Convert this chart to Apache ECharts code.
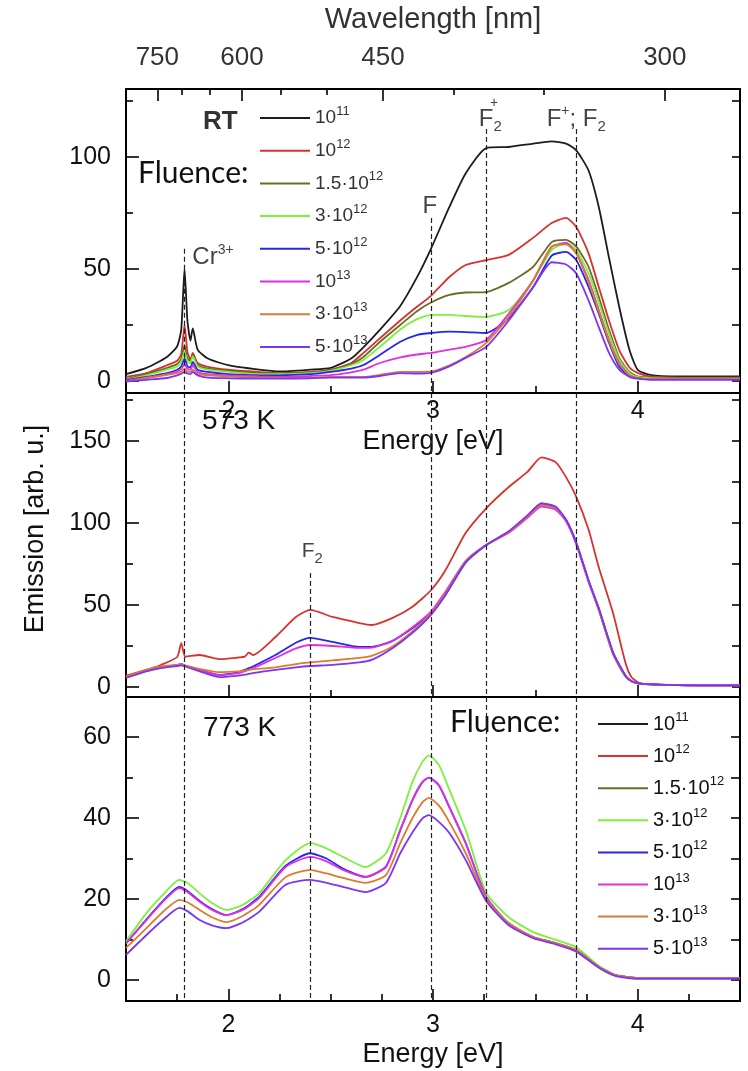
<!DOCTYPE html>
<html>
<head>
<meta charset="utf-8">
<script src="https://cdn.jsdelivr.net/npm/echarts@6.0.0/dist/echarts.min.js"></script>
<style>
html, body { margin: 0; padding: 0; background: #fff; }
#chart { width: 748px; height: 1071px; }
</style>
</head>
<body>
<div id="chart"></div>
<script>
// ---- Photon energy grids (eV), one per panel ----
const energyRT  = [1.50,1.60,1.70,1.75,1.77, 1.786,1.80,1.815,1.826,1.85, 1.90,2.00,2.15,2.25,2.40, 2.50,2.60,2.66,2.74,2.84, 2.92,2.99,3.08,3.16,3.26, 3.37,3.49,3.58,3.65,3.70, 3.76,3.81,3.86,3.91,3.96, 4.00,4.06,4.20,4.35,4.50];
const energy573 = [1.50,1.60,1.67,1.75,1.77, 1.79,1.86,1.96,2.05,2.08, 2.10,2.12,2.23,2.33,2.40, 2.51,2.64,2.70,2.80,2.90, 2.99,3.06,3.16,3.26,3.37, 3.46,3.53,3.60,3.65,3.70, 3.76,3.81,3.88,3.94,3.97, 4.01,4.10,4.30,4.50];
const energy773 = [1.50,1.60,1.68,1.76,1.80, 1.86,1.92,1.99,2.07,2.15, 2.28,2.40,2.48,2.56,2.67, 2.77,2.84,2.90,2.95,2.98, 3.03,3.08,3.16,3.26,3.37, 3.49,3.60,3.70,3.81,3.89, 4.00,4.20,4.50];

// ---- Emission spectra at room temperature (arb. u.) ----
const rt_1e11  = [3,5.8,10.7,15.5,23, 50,27,18,23.5,14, 10,7,5,4.2,5, 5.8,10,15,22.8,33.5, 46,59,77.7,92.8,104, 104.5,106,107,106,103, 94,77.7,55,33,13.8, 5,2.7,2,2,2];
const rt_1e12  = [1.8,3.5,7,9,12, 25,13,9.5,12.5,8, 6.3,5,4,3.5,4, 5,8,12.5,19,27, 33,38,46.4,51.8,54, 56.3,64,70.5,72.8,68.8, 57,42,27,13.8,6, 3.6,2,1.5,1.5,1.5];
const rt_15e12 = [0.8,3,5.8,7.5,10, 16,10,9,12,7, 5.5,4.5,3.5,3.2,3.8, 4.8,7.5,10.7,17.4,25, 31,35,38.4,39.5,39.7, 43.8,51,62,63,60, 51,37.5,22.8,10.3,4, 2,1.5,1.2,1.2,1.2];
const rt_3e12  = [0.5,2.5,5,6.5,8.5, 13,8.5,8,11,6.5, 5,4,3,3,3.5, 4.5,7,9.4,15.2,23, 27.5,29.5,29.5,29,28.6, 31.7,45,58.5,61.6,58.5, 48,35,21,9.5,3.5, 1.8,1.2,1,1,1];
const rt_5e12  = [0.3,1.8,3.5,5,6.5, 10,6.5,6,8.5,5, 4,3,2.5,2.5,3, 4,5.5,7.1,11.6,17.5, 20.5,21.4,22,21.8,21.4, 28,42,56,57.6,54, 42,30,17,6.3,2.2, 1.2,0.8,0.8,0.8,0.8];
const rt_1e13  = [0,1.5,3,4.2,5.5, 7.5,5.5,5,7,4, 3,2.5,2,1.8,2.2, 2.6,3.8,5,8,10.5, 11.8,12.5,14,15.2,18.3, 30,45,60,61.6,57, 45,31.7,18.3,8,2.5, 1.2,0.8,0.8,0.8,0.8];
const rt_3e13  = [-0.2,1.2,2.7,3.5,4.2, 5.5,4.2,4,5,3, 2.5,2,1.5,1.3,1.5, 1.8,1.8,1.8,2.7,4, 4,4.2,7,10.7,17, 28.6,45,60,61,57, 44,31,18,7.5,2.5, 1.2,0.8,0.8,0.8,0.8];
const rt_5e13  = [-0.3,0.5,1.3,2.5,3.2, 4,3.3,3,4,2.5, 1.5,1.2,1,1,1.2, 1.5,1.5,1.5,2.2,3.5, 3.3,3.6,6.5,10.3,15.2, 27,42,53,52,48, 36,24,12.5,5,1.8, 1,0.5,0.5,0.5,0.5];

// ---- Emission spectra at 573 K ----
const k573_1e12 = [7,10.5,13.4,18.3,26.8, 18.5,19.5,17,18,18.5, 21,19.5,30.5,42.7,47, 42.7,39,37.8,42,49, 59,71,94,109,122, 131,140,137,128,116, 96,73,45,15,6, 2.4,1.5,1,1];
const k573_5e12 = [6,10,12,13.4,14, 13,10.4,7.3,9,10.5, 11.5,12.5,19.5,27,30, 27.5,24.4,24.5,28,36, 45,56,76,86.6,94.5, 104,112,109,102,88, 65,48,21,7,3.5, 2,1.5,1,1];
const k573_1e13 = [6,10,12,13.4,14, 13,10.4,7.3,8.5,9.5, 10.5,11.5,17.7,23.5,25.6, 25,23.8,24,28,36.5, 46,58,77,86.6,94, 103,110,108,101,87, 64,47,20,6.5,3.5, 2,1.5,1,1];
const k573_3e13 = [6.5,10.5,12.5,13.4,13.8, 13,11,9,9.5,10, 10.5,10.8,12,14,15, 16.2,17.7,19,24.5,34, 45,57,77,86.6,94.5, 104,111,109,102,88, 65,47,20,6.5,3.5, 2,1.5,1,1];
const k573_5e13 = [5.5,9.5,11.5,12.8,13.2, 12.5,9.5,6,7,7.5, 8,8.5,10.4,12,12.8, 13.5,15,16.5,23.5,33, 44,56,76,86.6,95, 104.5,112,110,102,88, 65,48,21,7,3.5, 2,1.5,1,1];

// ---- Emission spectra at 773 K ----
const k773_3e12 = [9.5,16.5,21,24.7,24, 21.4,19,17.3,18.5,21.4, 29.6,33.8,32.5,30.4,27.9, 31.3,40,49,54,55.5, 53,47,37,21.5,15.5, 11.8,9.9,8.1,3.5,1.3, 0.5,0.5,0.5];
const k773_5e12 = [9,15,19.5,23,22, 19.5,17.5,16,17.5,20.5, 28.2,31.3,30,27.5,25.5, 28,37,44.5,49,50, 48,42.7,33.8,20.5,14, 10.6,9.1,7.4,3.2,1.2, 0.5,0.5,0.5];
const k773_1e13 = [9,14.8,19.3,22.7,21.7, 19.3,17.3,16,17.3,20.2, 27.9,30.4,29.3,27.2,25.4, 27.9,37,44.5,49,50, 48,42.7,33.8,20.5,14, 10.6,9.1,7.4,3.2,1.2, 0.5,0.5,0.5];
const k773_3e13 = [7.9,12.8,16.8,19.8,19.2, 17.3,15.5,14.3,15.8,18.5, 25.4,27.2,26.3,25.2,24, 25.9,33.8,40,44,45, 43,39,31.3,20,14, 10.6,9.1,7.4,3.2,1.2, 0.5,0.5,0.5];
const k773_5e13 = [6.2,11.1,14.8,17.8,17, 14.8,13.5,12.8,14.2,16.8, 23.5,24.7,24,23,21.7, 24,31.3,36.5,40,40.7, 39,36.3,29.6,19.5,13.5, 10.3,8.8,7,3,1, 0.3,0.3,0.3];

// ---- Fluence legend ----
const fluenceKeys   = ['1e11', '1e12', '1.5e12', '3e12', '5e12', '1e13', '3e13', '5e13'];
const fluenceLabels = ['10{s|11}', '10{s|12}', '1.5·10{s|12}', '3·10{s|12}', '5·10{s|12}', '10{s|13}', '3·10{s|13}', '5·10{s|13}'];
const fluenceColors = ['#1c1c1c', '#d8322e', '#6b6b24', '#7cf03c', '#2626ee', '#e02ee4', '#db7a30', '#7a36f4'];

// ---- Axis ticks ----
const energyMajor = [2, 3, 4];
const energyMinorCoarse = [2.5, 3.5];
const energyMinorFine = [1.75, 2.25, 2.5, 2.75, 3.25, 3.5, 3.75, 4.25];
const wavelengthMajor = [750, 600, 450, 300];
const wavelengthMinor = [700, 650, 550, 500, 400, 350];
const rtMajor = [0, 50, 100];       const rtMinor = [25, 75, 125];
const k573Major = [0, 50, 100, 150]; const k573Minor = [25, 75, 125, 175];
const k773Major = [0, 20, 40, 60];   const k773Minor = [10, 30, 50];

// ---- Defect-centre emission energies (eV) ----
const lineCr = 1.786, lineF2 = 2.40, lineF = 2.99, lineF2p = 3.26, lineFp = 3.70;

const E_MIN = 1.5, E_MAX = 4.5;
const EV_NM = 1239.84;
const RT_RANGE = [-5.4, 130.4];
const K573_RANGE = [-6.1, 179.3];
const K773_RANGE = [-5.2, 69.9];

const FONT = "'Liberation Sans', Arial, Helvetica, sans-serif";
const INK = '#000';

function tickStyle(len) {
  return { show: true, inside: true, length: len, lineStyle: { color: INK, width: 1.6 } };
}
function xAxisDef(gridIndex, position, ticks, len, label, extra) {
  const ax = {
    type: 'value', gridIndex, position, min: E_MIN, max: E_MAX,
    axisLine: { show: false, onZero: false }, splitLine: { show: false },
    axisTick: Object.assign(tickStyle(len), { customValues: ticks }),
    axisLabel: label ? Object.assign({ show: true, customValues: ticks, color: '#111', fontSize: 25, fontFamily: FONT }, label) : { show: false }
  };
  return Object.assign(ax, extra || {});
}
function yAxisDef(gridIndex, position, range, ticks, len, label) {
  return {
    type: 'value', gridIndex, position, min: range[0], max: range[1],
    axisLine: { show: false, onZero: false }, splitLine: { show: false },
    axisTick: Object.assign(tickStyle(len), { customValues: ticks }),
    axisLabel: label ? { show: true, customValues: ticks, color: '#111', fontSize: 25, fontFamily: FONT, margin: 15 } : { show: false }
  };
}

const nameStyle = { fontSize: 27, color: '#111', fontFamily: FONT };

const xAxes = [
  // room-temperature panel
  xAxisDef(0, 'bottom', energyMajor, 12, { margin: 6 },
    { name: 'Energy [eV]', nameLocation: 'middle', nameGap: 35, nameTextStyle: nameStyle }),
  xAxisDef(0, 'bottom', energyMinorCoarse, 7, null),
  xAxisDef(0, 'top', wavelengthMajor.map(w => EV_NM / w), 12,
    { margin: 18, fontSize: 26, color: '#333', formatter: v => String(Math.round(EV_NM / v)) },
    { name: 'Wavelength [nm]', nameLocation: 'middle', nameGap: 55, nameTextStyle: { fontSize: 29, color: '#333', fontFamily: FONT } }),
  xAxisDef(0, 'top', wavelengthMinor.map(w => EV_NM / w), 6, null),
  // 573 K panel
  xAxisDef(1, 'bottom', energyMajor, 12, null),
  xAxisDef(1, 'bottom', energyMinorCoarse, 7, null),
  // 773 K panel
  xAxisDef(2, 'bottom', energyMajor, 12, { margin: 12 },
    { name: 'Energy [eV]', nameLocation: 'middle', nameGap: 40, nameTextStyle: nameStyle }),
  xAxisDef(2, 'bottom', energyMinorFine, 7, null)
];

const yAxes = [
  yAxisDef(0, 'left', RT_RANGE, rtMajor, 13, true),
  yAxisDef(0, 'left', RT_RANGE, rtMinor, 7, false),
  yAxisDef(0, 'right', RT_RANGE, rtMajor.concat(rtMinor), 8, false),
  yAxisDef(1, 'left', K573_RANGE, k573Major, 13, true),
  yAxisDef(1, 'left', K573_RANGE, k573Minor, 7, false),
  yAxisDef(1, 'right', K573_RANGE, k573Major.concat(k573Minor), 8, false),
  yAxisDef(2, 'left', K773_RANGE, k773Major, 13, true),
  yAxisDef(2, 'left', K773_RANGE, k773Minor, 7, false),
  yAxisDef(2, 'right', K773_RANGE, k773Major.concat(k773Minor), 9, false)
];

function spectrum(key, energies, values, xi, yi) {
  const color = fluenceColors[fluenceKeys.indexOf(key)];
  return {
    type: 'line', name: key, xAxisIndex: xi, yAxisIndex: yi,
    data: energies.map((e, i) => [e, values[i]]),
    symbol: 'none', smooth: 0.2, silent: true,
    lineStyle: { color, width: 1.8 }, itemStyle: { color }
  };
}

const dash = { type: [5, 3], color: '#222', width: 1.2 };
function guideLines(segments) {
  return {
    silent: true, symbol: ['none', 'none'], label: { show: false }, lineStyle: dash,
    data: segments.map(([e, top, bottom]) => [{ coord: [e, top], lineStyle: dash }, { coord: [e, bottom] }])
  };
}

const annoRich = {
  sup: { fontSize: 14, lineHeight: 14, verticalAlign: 'top', color: '#444', fontFamily: FONT },
  sub: { fontSize: 15, lineHeight: 15, verticalAlign: 'bottom', color: '#444', fontFamily: FONT }
};
function annotations(items, size) {
  return {
    silent: true, symbol: 'circle', symbolSize: 0, itemStyle: { color: 'rgba(0,0,0,0)' },
    label: { show: true, position: 'inside', color: '#444', fontSize: size, lineHeight: 30, fontFamily: FONT, rich: annoRich },
    data: items.map(([e, v, text]) => ({ coord: [e, v], label: { formatter: text } }))
  };
}

const seriesRT = [rt_1e11, rt_1e12, rt_15e12, rt_3e12, rt_5e12, rt_1e13, rt_3e13, rt_5e13]
  .map((vals, i) => spectrum(fluenceKeys[i], energyRT, vals, 0, 0));
seriesRT[0].markLine = guideLines([
  [lineCr, 59, RT_RANGE[0]], [lineF, 72.8, RT_RANGE[0]],
  [lineF2p, 112.5, RT_RANGE[0]], [lineFp, 112.5, RT_RANGE[0]]
]);
seriesRT[0].markPoint = annotations([
  [1.925, 55, 'Cr{sup|3+}'],
  [2.985, 78, 'F'],
  [3.28, 117, 'F{sub|2}'],
  [3.298, 124, '{sup|+}'],
  [3.70, 117, 'F{sup|+}; F{sub|2}']
], 24);

const series573 = [
  spectrum('1e12', energy573, k573_1e12, 4, 3),
  spectrum('5e12', energy573, k573_5e12, 4, 3),
  spectrum('1e13', energy573, k573_1e13, 4, 3),
  spectrum('3e13', energy573, k573_3e13, 4, 3),
  spectrum('5e13', energy573, k573_5e13, 4, 3)
];
series573[0].markLine = guideLines([
  [lineCr, K573_RANGE[1], K573_RANGE[0]], [lineF2, 69.5, K573_RANGE[0]],
  [lineF, K573_RANGE[1], K573_RANGE[0]], [lineF2p, K573_RANGE[1], K573_RANGE[0]],
  [lineFp, K573_RANGE[1], K573_RANGE[0]]
]);
series573[0].markPoint = annotations([[2.41, 83, 'F{sub|2}']], 21);

const series773 = [
  spectrum('3e12', energy773, k773_3e12, 6, 6),
  spectrum('5e12', energy773, k773_5e12, 6, 6),
  spectrum('1e13', energy773, k773_1e13, 6, 6),
  spectrum('3e13', energy773, k773_3e13, 6, 6),
  spectrum('5e13', energy773, k773_5e13, 6, 6)
];
series773[0].markLine = guideLines(
  [lineCr, lineF2, lineF, lineF2p, lineFp].map(e => [e, K773_RANGE[1], K773_RANGE[0]])
);

function fluenceLegend(left, top, gap, size, color) {
  return {
    data: fluenceKeys, left, top, orient: 'vertical', icon: 'rect', itemWidth: 50, itemHeight: 2, itemGap: gap,
    selectedMode: false,
    formatter: name => fluenceLabels[fluenceKeys.indexOf(name)],
    textStyle: {
      fontSize: size, lineHeight: 26, color, fontFamily: FONT,
      rich: { s: { fontSize: 13, lineHeight: 13, verticalAlign: 'top', color, fontFamily: FONT } }
    }
  };
}

function label(text, x, y, font, fill, extra) {
  return Object.assign({
    type: 'text', x, y, silent: true,
    style: { text, font, fill, align: 'left', verticalAlign: 'middle' }
  }, extra || {});
}

const gridBox = { show: true, borderColor: INK, borderWidth: 2, backgroundColor: 'transparent' };

const option = {
  animation: false,
  backgroundColor: '#fff',
  grid: [
    Object.assign({ left: 126, top: 89, width: 614, height: 304 }, gridBox),
    Object.assign({ left: 126, top: 393, width: 614, height: 304 }, gridBox),
    Object.assign({ left: 126, top: 697, width: 614, height: 304 }, gridBox)
  ],
  xAxis: xAxes,
  yAxis: yAxes,
  legend: [
    fluenceLegend(255, 100, 6.7, 19, '#333'),
    fluenceLegend(593, 706, 6.1, 20, '#111')
  ],
  series: seriesRT.concat(series573, series773),
  graphic: [
    label('RT', 203, 122, "bold 26px 'Liberation Sans', Arial, sans-serif", '#333'),
    label('Fluence:', 138, 173, "30px Lato, 'Liberation Sans', sans-serif", '#111'),
    label('573 K', 202, 421, "28px 'Liberation Sans', Arial, sans-serif", '#111'),
    label('773 K', 203, 728, "28px 'Liberation Sans', Arial, sans-serif", '#111'),
    label('Fluence:', 450, 722, "30px Lato, 'Liberation Sans', sans-serif", '#111'),
    label('Emission [arb. u.]', 36, 529, "27px 'Liberation Sans', Arial, sans-serif", '#111',
      { rotation: Math.PI / 2, style: { text: 'Emission [arb. u.]', font: "27px 'Liberation Sans', Arial, sans-serif", fill: '#111', align: 'center', verticalAlign: 'middle' } })
  ]
};

const chart = echarts.init(document.getElementById('chart'), null, { renderer: 'canvas' });
chart.setOption(option);
</script>
</body>
</html>
